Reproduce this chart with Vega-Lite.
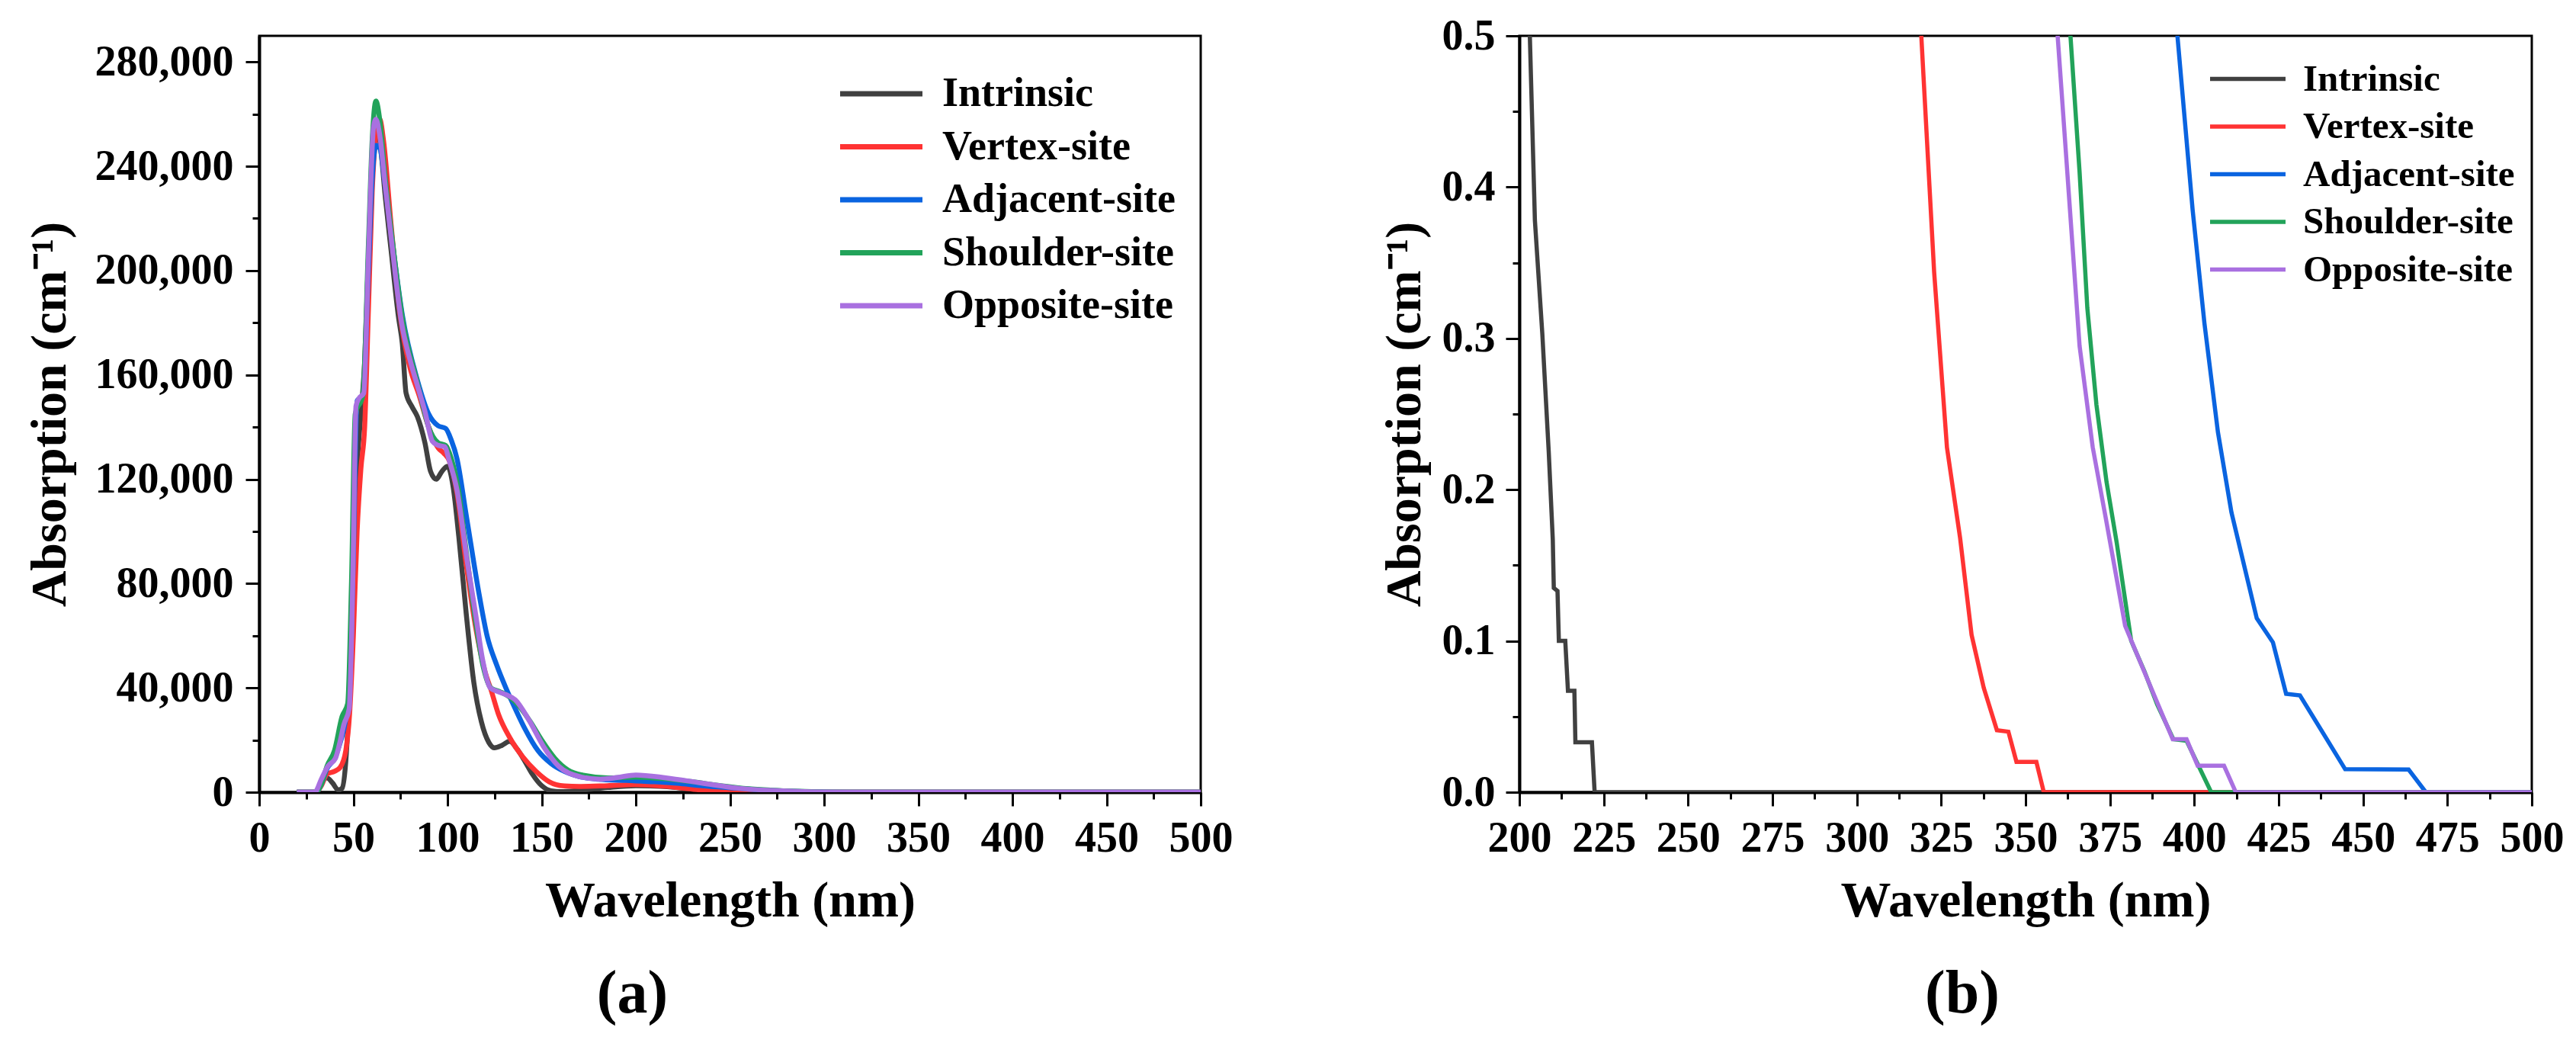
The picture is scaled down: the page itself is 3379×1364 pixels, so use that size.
{
"$schema": "https://vega.github.io/schema/vega-lite/v6.json",
"background": "white",
"padding": {"left": 30, "top": 17, "right": 5, "bottom": 5},
"spacing": 418,
"bounds": "flush",
"config": {
  "font": "Liberation Serif",
  "view": {"stroke": "black", "strokeWidth": 3},
  "axis": {"domainColor": "black", "domainWidth": 4, "tickColor": "black", "tickWidth": 3, "labelFont": "Liberation Serif", "labelFontWeight": "bold", "labelFontSize": 56, "labelColor": "black", "labelLimit": 0, "titleFont": "Liberation Serif", "titleFontWeight": "bold", "titleFontSize": 66, "titleColor": "black", "titleLimit": 0, "grid": false, "labelFlush": false, "labelOverlap": false},
  "legend": {"labelFont": "Liberation Serif", "labelFontWeight": "bold", "labelColor": "black", "labelLimit": 0, "padding": 0}
},
"datasets": {
"a": [
{"s":"Intrinsic","wl":20,"A":0},{"s":"Intrinsic","wl":30,"A":0},{"s":"Intrinsic","wl":33,"A":4000},{"s":"Intrinsic","wl":36,"A":5500},{"s":"Intrinsic","wl":39,"A":3500},{"s":"Intrinsic","wl":42,"A":800},{"s":"Intrinsic","wl":44,"A":1500},{"s":"Intrinsic","wl":46,"A":12000},{"s":"Intrinsic","wl":48,"A":40000},{"s":"Intrinsic","wl":50,"A":85000},{"s":"Intrinsic","wl":52,"A":125000},{"s":"Intrinsic","wl":54,"A":145000},{"s":"Intrinsic","wl":56,"A":165000},{"s":"Intrinsic","wl":58,"A":205000},{"s":"Intrinsic","wl":60,"A":240000},{"s":"Intrinsic","wl":62,"A":255000},{"s":"Intrinsic","wl":64,"A":250000},{"s":"Intrinsic","wl":67,"A":228000},{"s":"Intrinsic","wl":70,"A":208000},{"s":"Intrinsic","wl":74,"A":182000},{"s":"Intrinsic","wl":76,"A":172000},{"s":"Intrinsic","wl":78,"A":153000},{"s":"Intrinsic","wl":81,"A":148000},{"s":"Intrinsic","wl":84,"A":144000},{"s":"Intrinsic","wl":88,"A":134000},{"s":"Intrinsic","wl":91,"A":123000},{"s":"Intrinsic","wl":94,"A":120000},{"s":"Intrinsic","wl":97,"A":123000},{"s":"Intrinsic","wl":100,"A":125000},{"s":"Intrinsic","wl":103,"A":117000},{"s":"Intrinsic","wl":106,"A":98000},{"s":"Intrinsic","wl":110,"A":68000},{"s":"Intrinsic","wl":114,"A":42000},{"s":"Intrinsic","wl":118,"A":27000},{"s":"Intrinsic","wl":122,"A":19000},{"s":"Intrinsic","wl":125,"A":17000},{"s":"Intrinsic","wl":129,"A":18000},{"s":"Intrinsic","wl":133,"A":19500},{"s":"Intrinsic","wl":137,"A":16500},{"s":"Intrinsic","wl":141,"A":12000},{"s":"Intrinsic","wl":145,"A":7000},{"s":"Intrinsic","wl":150,"A":2500},{"s":"Intrinsic","wl":155,"A":500},{"s":"Intrinsic","wl":160,"A":200},{"s":"Intrinsic","wl":170,"A":700},{"s":"Intrinsic","wl":185,"A":1800},{"s":"Intrinsic","wl":200,"A":2500},{"s":"Intrinsic","wl":215,"A":2200},{"s":"Intrinsic","wl":230,"A":1200},{"s":"Intrinsic","wl":245,"A":400},{"s":"Intrinsic","wl":260,"A":100},{"s":"Intrinsic","wl":280,"A":0},{"s":"Intrinsic","wl":500,"A":0},
{"s":"Vertex-site","wl":20,"A":0},{"s":"Vertex-site","wl":30,"A":0},{"s":"Vertex-site","wl":33,"A":2500},{"s":"Vertex-site","wl":36,"A":7000},{"s":"Vertex-site","wl":40,"A":8000},{"s":"Vertex-site","wl":43,"A":9500},{"s":"Vertex-site","wl":46,"A":16000},{"s":"Vertex-site","wl":48,"A":30000},{"s":"Vertex-site","wl":50,"A":60000},{"s":"Vertex-site","wl":52,"A":100000},{"s":"Vertex-site","wl":54,"A":124000},{"s":"Vertex-site","wl":56,"A":140000},{"s":"Vertex-site","wl":58,"A":185000},{"s":"Vertex-site","wl":60,"A":230000},{"s":"Vertex-site","wl":62,"A":252000},{"s":"Vertex-site","wl":64,"A":258000},{"s":"Vertex-site","wl":66,"A":250000},{"s":"Vertex-site","wl":70,"A":218000},{"s":"Vertex-site","wl":75,"A":182000},{"s":"Vertex-site","wl":80,"A":163000},{"s":"Vertex-site","wl":85,"A":152000},{"s":"Vertex-site","wl":90,"A":140000},{"s":"Vertex-site","wl":95,"A":132000},{"s":"Vertex-site","wl":98,"A":130000},{"s":"Vertex-site","wl":101,"A":127000},{"s":"Vertex-site","wl":105,"A":115000},{"s":"Vertex-site","wl":110,"A":87000},{"s":"Vertex-site","wl":115,"A":63000},{"s":"Vertex-site","wl":120,"A":46000},{"s":"Vertex-site","wl":123,"A":39500},{"s":"Vertex-site","wl":127,"A":30000},{"s":"Vertex-site","wl":133,"A":21000},{"s":"Vertex-site","wl":140,"A":13500},{"s":"Vertex-site","wl":147,"A":8000},{"s":"Vertex-site","wl":154,"A":4000},{"s":"Vertex-site","wl":162,"A":2400},{"s":"Vertex-site","wl":170,"A":2200},{"s":"Vertex-site","wl":185,"A":2500},{"s":"Vertex-site","wl":200,"A":2900},{"s":"Vertex-site","wl":215,"A":2300},{"s":"Vertex-site","wl":230,"A":1200},{"s":"Vertex-site","wl":245,"A":300},{"s":"Vertex-site","wl":260,"A":0},{"s":"Vertex-site","wl":500,"A":0},
{"s":"Adjacent-site","wl":20,"A":0},{"s":"Adjacent-site","wl":30,"A":0},{"s":"Adjacent-site","wl":33,"A":3000},{"s":"Adjacent-site","wl":36,"A":9000},{"s":"Adjacent-site","wl":40,"A":13000},{"s":"Adjacent-site","wl":43,"A":19000},{"s":"Adjacent-site","wl":46,"A":28000},{"s":"Adjacent-site","wl":48,"A":40000},{"s":"Adjacent-site","wl":50,"A":90000},{"s":"Adjacent-site","wl":52,"A":150000},{"s":"Adjacent-site","wl":55,"A":152000},{"s":"Adjacent-site","wl":58,"A":200000},{"s":"Adjacent-site","wl":60,"A":235000},{"s":"Adjacent-site","wl":62,"A":248000},{"s":"Adjacent-site","wl":64,"A":247000},{"s":"Adjacent-site","wl":67,"A":232000},{"s":"Adjacent-site","wl":70,"A":215000},{"s":"Adjacent-site","wl":76,"A":183000},{"s":"Adjacent-site","wl":84,"A":158000},{"s":"Adjacent-site","wl":90,"A":145000},{"s":"Adjacent-site","wl":95,"A":140500},{"s":"Adjacent-site","wl":99,"A":139500},{"s":"Adjacent-site","wl":102,"A":135000},{"s":"Adjacent-site","wl":105,"A":128000},{"s":"Adjacent-site","wl":110,"A":106000},{"s":"Adjacent-site","wl":117,"A":75000},{"s":"Adjacent-site","wl":121,"A":60000},{"s":"Adjacent-site","wl":126,"A":49000},{"s":"Adjacent-site","wl":131,"A":40000},{"s":"Adjacent-site","wl":136,"A":32000},{"s":"Adjacent-site","wl":141,"A":24500},{"s":"Adjacent-site","wl":148,"A":16000},{"s":"Adjacent-site","wl":155,"A":11000},{"s":"Adjacent-site","wl":162,"A":8000},{"s":"Adjacent-site","wl":170,"A":6000},{"s":"Adjacent-site","wl":180,"A":5000},{"s":"Adjacent-site","wl":195,"A":4500},{"s":"Adjacent-site","wl":210,"A":4000},{"s":"Adjacent-site","wl":222,"A":3400},{"s":"Adjacent-site","wl":235,"A":2500},{"s":"Adjacent-site","wl":248,"A":1800},{"s":"Adjacent-site","wl":265,"A":900},{"s":"Adjacent-site","wl":285,"A":300},{"s":"Adjacent-site","wl":310,"A":0},{"s":"Adjacent-site","wl":500,"A":0},
{"s":"Shoulder-site","wl":20,"A":0},{"s":"Shoulder-site","wl":30,"A":0},{"s":"Shoulder-site","wl":33,"A":3000},{"s":"Shoulder-site","wl":36,"A":10000},{"s":"Shoulder-site","wl":40,"A":16000},{"s":"Shoulder-site","wl":44,"A":29000},{"s":"Shoulder-site","wl":47,"A":34000},{"s":"Shoulder-site","wl":49,"A":80000},{"s":"Shoulder-site","wl":51,"A":145000},{"s":"Shoulder-site","wl":55,"A":152000},{"s":"Shoulder-site","wl":58,"A":210000},{"s":"Shoulder-site","wl":60,"A":250000},{"s":"Shoulder-site","wl":62,"A":265000},{"s":"Shoulder-site","wl":64,"A":258000},{"s":"Shoulder-site","wl":67,"A":235000},{"s":"Shoulder-site","wl":70,"A":216000},{"s":"Shoulder-site","wl":76,"A":182000},{"s":"Shoulder-site","wl":84,"A":157000},{"s":"Shoulder-site","wl":90,"A":140000},{"s":"Shoulder-site","wl":95,"A":134000},{"s":"Shoulder-site","wl":99,"A":133000},{"s":"Shoulder-site","wl":102,"A":128000},{"s":"Shoulder-site","wl":106,"A":115000},{"s":"Shoulder-site","wl":110,"A":92000},{"s":"Shoulder-site","wl":115,"A":65000},{"s":"Shoulder-site","wl":119,"A":48000},{"s":"Shoulder-site","wl":123,"A":40000},{"s":"Shoulder-site","wl":128,"A":38500},{"s":"Shoulder-site","wl":133,"A":36500},{"s":"Shoulder-site","wl":138,"A":33000},{"s":"Shoulder-site","wl":144,"A":27000},{"s":"Shoulder-site","wl":150,"A":20000},{"s":"Shoulder-site","wl":157,"A":13000},{"s":"Shoulder-site","wl":164,"A":8500},{"s":"Shoulder-site","wl":172,"A":6500},{"s":"Shoulder-site","wl":185,"A":5500},{"s":"Shoulder-site","wl":200,"A":5800},{"s":"Shoulder-site","wl":215,"A":5200},{"s":"Shoulder-site","wl":230,"A":4000},{"s":"Shoulder-site","wl":245,"A":2500},{"s":"Shoulder-site","wl":260,"A":1300},{"s":"Shoulder-site","wl":280,"A":500},{"s":"Shoulder-site","wl":300,"A":100},{"s":"Shoulder-site","wl":320,"A":0},{"s":"Shoulder-site","wl":500,"A":0},
{"s":"Opposite-site","wl":20,"A":0},{"s":"Opposite-site","wl":29.5,"A":0},{"s":"Opposite-site","wl":33,"A":5000},{"s":"Opposite-site","wl":36.5,"A":10000},{"s":"Opposite-site","wl":40.5,"A":13000},{"s":"Opposite-site","wl":42.5,"A":18000},{"s":"Opposite-site","wl":45,"A":26000},{"s":"Opposite-site","wl":47.8,"A":32000},{"s":"Opposite-site","wl":49.8,"A":85000},{"s":"Opposite-site","wl":51.4,"A":148000},{"s":"Opposite-site","wl":53,"A":151000},{"s":"Opposite-site","wl":55.5,"A":153000},{"s":"Opposite-site","wl":58,"A":205000},{"s":"Opposite-site","wl":60.7,"A":255000},{"s":"Opposite-site","wl":62,"A":258000},{"s":"Opposite-site","wl":64,"A":252000},{"s":"Opposite-site","wl":67,"A":232000},{"s":"Opposite-site","wl":70,"A":213000},{"s":"Opposite-site","wl":75.6,"A":180000},{"s":"Opposite-site","wl":80,"A":166000},{"s":"Opposite-site","wl":84,"A":156000},{"s":"Opposite-site","wl":88,"A":146000},{"s":"Opposite-site","wl":92,"A":134500},{"s":"Opposite-site","wl":95,"A":133000},{"s":"Opposite-site","wl":98.4,"A":132500},{"s":"Opposite-site","wl":101,"A":127000},{"s":"Opposite-site","wl":105,"A":116000},{"s":"Opposite-site","wl":110.6,"A":88000},{"s":"Opposite-site","wl":115,"A":68000},{"s":"Opposite-site","wl":118.6,"A":51000},{"s":"Opposite-site","wl":122.7,"A":40000},{"s":"Opposite-site","wl":127,"A":38500},{"s":"Opposite-site","wl":131,"A":37400},{"s":"Opposite-site","wl":136,"A":35400},{"s":"Opposite-site","wl":143,"A":28000},{"s":"Opposite-site","wl":151,"A":17500},{"s":"Opposite-site","wl":159,"A":10000},{"s":"Opposite-site","wl":170,"A":6000},{"s":"Opposite-site","wl":181,"A":5000},{"s":"Opposite-site","wl":190,"A":5600},{"s":"Opposite-site","wl":200,"A":6600},{"s":"Opposite-site","wl":216,"A":5500},{"s":"Opposite-site","wl":235,"A":3500},{"s":"Opposite-site","wl":255,"A":1500},{"s":"Opposite-site","wl":275,"A":600},{"s":"Opposite-site","wl":300,"A":100},{"s":"Opposite-site","wl":320,"A":0},{"s":"Opposite-site","wl":500,"A":0}
],
"b": [
{"s":"Intrinsic","wl":200.5,"A":0.75},{"s":"Intrinsic","wl":203.1,"A":0.5},{"s":"Intrinsic","wl":204.6,"A":0.378},{"s":"Intrinsic","wl":206.8,"A":0.303},{"s":"Intrinsic","wl":208.7,"A":0.225},{"s":"Intrinsic","wl":209.9,"A":0.167},{"s":"Intrinsic","wl":210.2,"A":0.135},{"s":"Intrinsic","wl":211.3,"A":0.133},{"s":"Intrinsic","wl":211.7,"A":0.1},{"s":"Intrinsic","wl":213.6,"A":0.1},{"s":"Intrinsic","wl":214.4,"A":0.067},{"s":"Intrinsic","wl":216.3,"A":0.067},{"s":"Intrinsic","wl":216.6,"A":0.033},{"s":"Intrinsic","wl":221.5,"A":0.033},{"s":"Intrinsic","wl":222.3,"A":0},{"s":"Intrinsic","wl":500,"A":0},
{"s":"Vertex-site","wl":317,"A":0.59},{"s":"Vertex-site","wl":319.1,"A":0.5},{"s":"Vertex-site","wl":322.9,"A":0.344},{"s":"Vertex-site","wl":326.7,"A":0.228},{"s":"Vertex-site","wl":330.6,"A":0.168},{"s":"Vertex-site","wl":334,"A":0.104},{"s":"Vertex-site","wl":337.6,"A":0.069},{"s":"Vertex-site","wl":341.5,"A":0.041},{"s":"Vertex-site","wl":344.9,"A":0.04},{"s":"Vertex-site","wl":347.3,"A":0.02},{"s":"Vertex-site","wl":353.2,"A":0.02},{"s":"Vertex-site","wl":355.4,"A":0},{"s":"Vertex-site","wl":500,"A":0},
{"s":"Adjacent-site","wl":393.5,"A":0.6},{"s":"Adjacent-site","wl":395,"A":0.5},{"s":"Adjacent-site","wl":399.5,"A":0.385},{"s":"Adjacent-site","wl":403,"A":0.31},{"s":"Adjacent-site","wl":407,"A":0.238},{"s":"Adjacent-site","wl":411,"A":0.185},{"s":"Adjacent-site","wl":418.5,"A":0.115},{"s":"Adjacent-site","wl":423.3,"A":0.099},{"s":"Adjacent-site","wl":427.2,"A":0.065},{"s":"Adjacent-site","wl":431.3,"A":0.064},{"s":"Adjacent-site","wl":444.7,"A":0.0152},{"s":"Adjacent-site","wl":463.5,"A":0.015},{"s":"Adjacent-site","wl":468.6,"A":0},{"s":"Adjacent-site","wl":500,"A":0},
{"s":"Shoulder-site","wl":362,"A":0.58},{"s":"Shoulder-site","wl":363.3,"A":0.5},{"s":"Shoulder-site","wl":366,"A":0.41},{"s":"Shoulder-site","wl":368.3,"A":0.32},{"s":"Shoulder-site","wl":371,"A":0.256},{"s":"Shoulder-site","wl":374,"A":0.205},{"s":"Shoulder-site","wl":377,"A":0.165},{"s":"Shoulder-site","wl":381.3,"A":0.1},{"s":"Shoulder-site","wl":385.2,"A":0.08},{"s":"Shoulder-site","wl":389,"A":0.058},{"s":"Shoulder-site","wl":393.8,"A":0.035},{"s":"Shoulder-site","wl":397.7,"A":0.034},{"s":"Shoulder-site","wl":405,"A":0},{"s":"Shoulder-site","wl":500,"A":0},
{"s":"Opposite-site","wl":358,"A":0.59},{"s":"Opposite-site","wl":359.5,"A":0.5},{"s":"Opposite-site","wl":362.2,"A":0.415},{"s":"Opposite-site","wl":366,"A":0.295},{"s":"Opposite-site","wl":369.9,"A":0.228},{"s":"Opposite-site","wl":373.7,"A":0.182},{"s":"Opposite-site","wl":379.5,"A":0.11},{"s":"Opposite-site","wl":385.2,"A":0.0795},{"s":"Opposite-site","wl":393.6,"A":0.035},{"s":"Opposite-site","wl":397.7,"A":0.035},{"s":"Opposite-site","wl":401,"A":0.0175},{"s":"Opposite-site","wl":408.8,"A":0.0175},{"s":"Opposite-site","wl":412.3,"A":0},{"s":"Opposite-site","wl":500,"A":0}
]
},
"hconcat": [
{
  "width": 1235, "height": 992,
  "data": {"name": "a"},
  "title": {"text": "(a)", "orient": "bottom", "anchor": "middle", "fontSize": 80, "font": "Liberation Serif", "fontWeight": "bold", "color": "black", "offset": 51, "dx": -128},
  "mark": {"type": "line", "interpolate": "monotone", "strokeWidth": 6.5, "clip": true},
  "encoding": {
    "x": {"field": "wl", "type": "quantitative", "scale": {"domain": [0, 500], "nice": false},
      "axis": {"title": "Wavelength (nm)", "values": [0,25,50,75,100,125,150,175,200,225,250,275,300,325,350,375,400,425,450,475,500], "format": "d", "labelExpr": "datum.value % 50 === 0 ? datum.label : ''", "tickSize": {"condition": {"test": "datum.value % 50 === 0", "value": 18}, "value": 9}, "labelPadding": 15, "titleY": 162, "titleBaseline": "alphabetic"}},
    "y": {"field": "A", "type": "quantitative", "scale": {"domain": [0, 290000], "nice": false},
      "axis": {"title": "Absorption (cm⁻¹)", "values": [0,20000,40000,60000,80000,100000,120000,140000,160000,180000,200000,220000,240000,260000,280000], "format": ",d", "labelExpr": "datum.value % 40000 === 0 ? datum.label : ''", "tickSize": {"condition": {"test": "datum.value % 40000 === 0", "value": 18}, "value": 9}, "labelPadding": 16, "titleX": -255, "titleBaseline": "alphabetic"}},
    "color": {"field": "s", "type": "nominal",
      "scale": {"domain": ["Intrinsic", "Vertex-site", "Adjacent-site", "Shoulder-site", "Opposite-site"], "range": ["#404040", "#ff3333", "#0a64e0", "#22a35a", "#a970e0"]},
      "legend": {"title": null, "orient": "none", "legendX": 789, "legendY": 49, "symbolType": "M-4,0H4", "symbolSize": 729, "symbolStrokeWidth": 7, "labelFontSize": 54, "labelOffset": 53, "rowPadding": 15.5}}
  }
},
{
  "width": 1328, "height": 992,
  "data": {"name": "b"},
  "title": {"text": "(b)", "orient": "bottom", "anchor": "middle", "fontSize": 80, "font": "Liberation Serif", "fontWeight": "bold", "color": "black", "offset": 51, "dx": -83},
  "mark": {"type": "line", "interpolate": "linear", "strokeWidth": 5.5, "clip": true},
  "encoding": {
    "x": {"field": "wl", "type": "quantitative", "scale": {"domain": [200, 500], "nice": false, "zero": false},
      "axis": {"title": "Wavelength (nm)", "values": [200,212.5,225,237.5,250,262.5,275,287.5,300,312.5,325,337.5,350,362.5,375,387.5,400,412.5,425,437.5,450,462.5,475,487.5,500], "labelExpr": "datum.value % 25 === 0 ? format(datum.value, 'd') : ''", "tickSize": {"condition": {"test": "datum.value % 25 === 0", "value": 18}, "value": 9}, "labelPadding": 15, "titleY": 162, "titleBaseline": "alphabetic"}},
    "y": {"field": "A", "type": "quantitative", "scale": {"domain": [0, 0.5], "nice": false},
      "axis": {"title": "Absorption (cm⁻¹)", "values": [0,0.05,0.1,0.15,0.2,0.25,0.3,0.35,0.4,0.45,0.5], "labelExpr": "round(datum.value*100) % 10 === 0 ? format(datum.value, '.1f') : ''", "tickSize": {"condition": {"test": "round(datum.value*100) % 10 === 0", "value": 18}, "value": 9}, "labelPadding": 14, "titleX": -131, "titleBaseline": "alphabetic"}},
    "color": {"field": "s", "type": "nominal",
      "scale": {"domain": ["Intrinsic", "Vertex-site", "Adjacent-site", "Shoulder-site", "Opposite-site"], "range": ["#404040", "#ff3333", "#0a64e0", "#22a35a", "#a970e0"]},
      "legend": {"title": null, "orient": "none", "legendX": 931, "legendY": 32, "symbolType": "M-4,0H4", "symbolSize": 612.6, "symbolStrokeWidth": 5.5, "labelFontSize": 49, "labelOffset": 48, "rowPadding": 12.5}}
  }
}
],
"resolve": {"scale": {"color": "independent"}, "legend": {"color": "independent"}}
}
